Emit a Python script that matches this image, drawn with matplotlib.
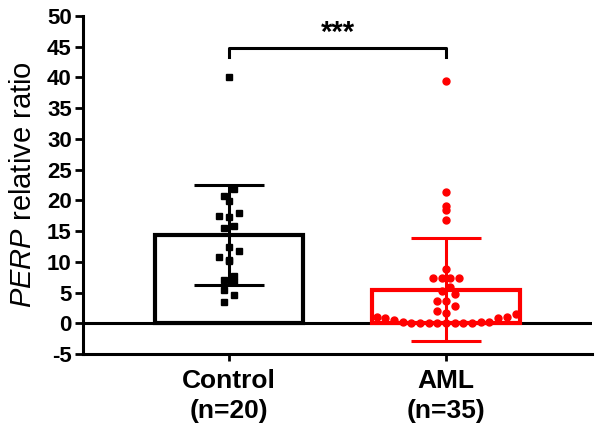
import numpy as np
import matplotlib
matplotlib.use("Agg")
import matplotlib.pyplot as plt

plt.rcParams['font.family'] = ['Liberation Sans', 'DejaVu Sans']
plt.rcParams['mathtext.fontset'] = 'custom'
plt.rcParams['mathtext.it'] = 'Liberation Sans:italic'
plt.rcParams['mathtext.rm'] = 'Liberation Sans'

# values
groups = ["Control\n(n=20)", "AML\n(n=35)"]
group_colors = ["black", "red"]
group_markers = ["s", "o"]
means = [14.4, 5.5]
sds = [8.1, 8.4]

control = [40.0, 21.9, 20.7, 19.9, 17.9, 17.3, 17.5, 15.5, 15.8, 12.4,
           11.8, 10.3, 10.1, 10.8, 7.7, 6.7, 7.0, 5.4, 4.6, 3.5]
aml = [39.4, 21.4, 19.1, 18.4, 16.8, 8.9, 7.4, 7.3, 7.3, 7.4,
       5.9, 5.2, 4.7, 3.6, 3.6, 2.8, 2.0, 1.7,
       1.6, 1.0, 0.9, 0.3, 0.25, 0.0, 0.0, 0.0, 0.0, 0.0, 0.0, 0.0,
       0.1, 0.2, 0.5, 0.9, 1.1]
points = [control, aml]
yticks = list(range(-5, 55, 5))


def swarm_offsets(vals, step, bin_h, v0=-0.05):
    # GraphPad-like: bin values into rows, spread each row centre-out
    vals = np.asarray(vals, dtype=float)
    offs = np.zeros(len(vals))
    bins = np.floor((vals - v0) / bin_h).astype(int)
    for b in np.unique(bins):
        idx = np.where(bins == b)[0]
        idx = idx[np.argsort(vals[idx], kind="stable")]
        n = len(idx)
        if n % 2:
            slots = [0.0]
            for k in range(1, n // 2 + 1):
                slots += [-k, k]
        else:
            slots = []
            for k in range(n // 2):
                slots += [-(k + 0.5), k + 0.5]
        for i, s in zip(idx, slots):
            offs[i] = s * step
    return offs


fig = plt.figure(figsize=(6, 4.41), dpi=100)
ax = fig.add_axes([0.138, 0.197, 0.849, 0.767])

x = np.arange(len(groups))
ax.set_xlim(-0.673, 1.673)
ax.set_ylim(-5, 50)

# bars
for i in range(len(groups)):
    ax.bar(x[i], means[i], width=0.68, facecolor="white",
           edgecolor=group_colors[i], linewidth=3, zorder=2)

ax.axhline(0, color="black", lw=2.2, zorder=1)

# scatter points
steps = [0.046, 0.04]
for i in range(len(groups)):
    offs = swarm_offsets(points[i], steps[i], 1.7)
    ax.plot(x[i] + offs, points[i], linestyle="none",
            marker=group_markers[i], color=group_colors[i],
            markersize=5, zorder=3)

# error bars
for i in range(len(groups)):
    ax.errorbar(x[i], means[i], yerr=sds[i], color=group_colors[i],
                lw=2.2, capsize=25, capthick=2.2, zorder=4)

# significance bracket
ax.plot([0, 0, 1, 1], [43.3, 44.7, 44.7, 43.3], color="black", lw=2.2,
        clip_on=False, zorder=5)
ax.text(0.5, 47.3, "***", ha="center", va="center", fontsize=21,
        fontweight="bold")

ax.set_xticks(x)
ax.set_xticklabels(groups, fontsize=19, fontweight="bold", linespacing=1.3)
ax.set_yticks(yticks)
ax.set_yticklabels([str(t) for t in yticks], fontsize=16, fontweight="bold")
ax.set_ylabel(r"$\it{PERP}$ relative ratio", fontsize=21, labelpad=7)

for side in ["top", "right"]:
    ax.spines[side].set_visible(False)
for side in ["left", "bottom"]:
    ax.spines[side].set_linewidth(2.2)
ax.tick_params(axis="y", length=6, width=2, pad=2)
ax.tick_params(axis="x", length=5, width=2, pad=6)

fig.savefig("out.png", dpi=100)
